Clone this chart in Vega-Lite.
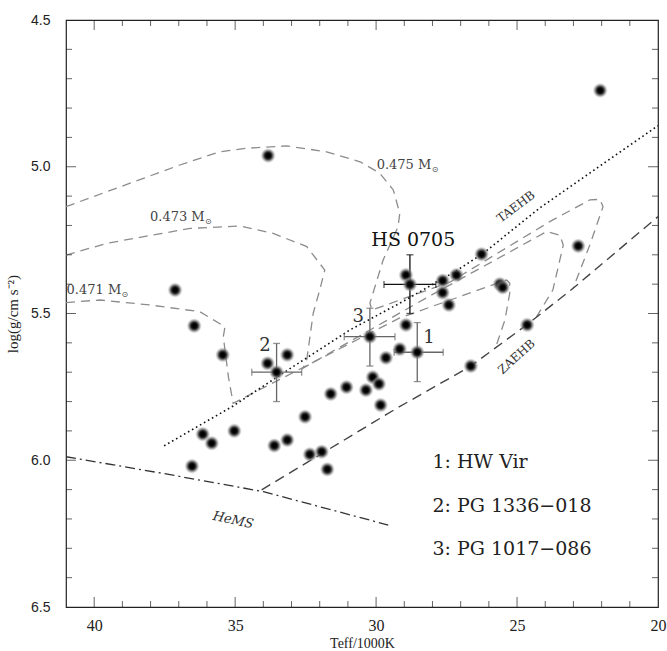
{
  "$schema": "https://vega.github.io/schema/vega-lite/v6.json",
  "width": 592,
  "height": 587,
  "autosize": {"type": "none"},
  "padding": {"left": 66, "top": 20, "right": 9, "bottom": 44},
  "background": "white",
  "config": {
    "view": {"stroke": "#222", "strokeWidth": 1.2},
    "axis": {"domain": false, "grid": false, "ticks": false, "tickSize": 0, "labelColor": "#222", "titleColor": "#222", "labelOverlap": false, "labelFlush": false},
    "axisX": {"labelFont": "Liberation Serif"},
    "axisY": {"labelFont": "Liberation Sans"},
    "tick": {"color": "#222", "thickness": 1}
  },
  "datasets": {
    "xt": [
      {"v": 21, "major": false}, {"v": 22, "major": false}, {"v": 23, "major": false}, {"v": 24, "major": false},
      {"v": 25, "major": true}, {"v": 26, "major": false}, {"v": 27, "major": false}, {"v": 28, "major": false},
      {"v": 29, "major": false}, {"v": 30, "major": true}, {"v": 31, "major": false}, {"v": 32, "major": false},
      {"v": 33, "major": false}, {"v": 34, "major": false}, {"v": 35, "major": true}, {"v": 36, "major": false},
      {"v": 37, "major": false}, {"v": 38, "major": false}, {"v": 39, "major": false}, {"v": 40, "major": true}
    ],
    "yt": [
      {"v": 4.6, "major": false}, {"v": 4.7, "major": false}, {"v": 4.8, "major": false}, {"v": 4.9, "major": false},
      {"v": 5.0, "major": true}, {"v": 5.1, "major": false}, {"v": 5.2, "major": false}, {"v": 5.3, "major": false},
      {"v": 5.4, "major": false}, {"v": 5.5, "major": true}, {"v": 5.6, "major": false}, {"v": 5.7, "major": false},
      {"v": 5.8, "major": false}, {"v": 5.9, "major": false}, {"v": 6.0, "major": true}, {"v": 6.1, "major": false},
      {"v": 6.2, "major": false}, {"v": 6.3, "major": false}, {"v": 6.4, "major": false}
    ],
    "dots": [
      {"T": 22.05, "g": 4.74}, {"T": 33.83, "g": 4.962}, {"T": 37.13, "g": 5.42}, {"T": 36.45, "g": 5.542},
      {"T": 35.44, "g": 5.641}, {"T": 33.85, "g": 5.67}, {"T": 33.15, "g": 5.641}, {"T": 36.15, "g": 5.911},
      {"T": 35.83, "g": 5.942}, {"T": 35.03, "g": 5.9}, {"T": 36.53, "g": 6.02}, {"T": 33.61, "g": 5.95},
      {"T": 33.15, "g": 5.931}, {"T": 32.52, "g": 5.852}, {"T": 32.35, "g": 5.98}, {"T": 31.93, "g": 5.971},
      {"T": 31.73, "g": 6.031}, {"T": 31.61, "g": 5.774}, {"T": 31.05, "g": 5.751}, {"T": 30.36, "g": 5.761},
      {"T": 29.84, "g": 5.812}, {"T": 28.94, "g": 5.369}, {"T": 27.64, "g": 5.388}, {"T": 27.15, "g": 5.369},
      {"T": 26.26, "g": 5.298}, {"T": 27.64, "g": 5.429}, {"T": 27.42, "g": 5.471}, {"T": 25.61, "g": 5.4},
      {"T": 25.51, "g": 5.411}, {"T": 22.83, "g": 5.27}, {"T": 24.64, "g": 5.539}, {"T": 26.64, "g": 5.679},
      {"T": 28.94, "g": 5.539}, {"T": 29.16, "g": 5.621}, {"T": 29.65, "g": 5.651}, {"T": 30.12, "g": 5.717},
      {"T": 29.9, "g": 5.74},
      {"T": 28.8, "g": 5.401}, {"T": 28.54, "g": 5.632}, {"T": 33.53, "g": 5.7}, {"T": 30.22, "g": 5.579}
    ],
    "errs": [
      {"name": "HS 0705", "T": 28.8, "g": 5.401, "Tlo": 27.88, "Thi": 29.72, "glo": 5.3, "ghi": 5.5},
      {"name": "1", "T": 28.54, "g": 5.632, "Tlo": 27.62, "Thi": 29.36, "glo": 5.531, "ghi": 5.732},
      {"name": "2", "T": 33.53, "g": 5.7, "Tlo": 32.64, "Thi": 34.41, "glo": 5.602, "ghi": 5.8},
      {"name": "3", "T": 30.22, "g": 5.579, "Tlo": 29.33, "Thi": 31.13, "glo": 5.482, "ghi": 5.679}
    ],
    "tracks": [
      {"track": "0.475", "i": 1, "T": 41.0, "g": 5.136}, {"track": "0.475", "i": 2, "T": 36.96, "g": 4.994},
      {"track": "0.475", "i": 3, "T": 35.54, "g": 4.949}, {"track": "0.475", "i": 4, "T": 34.59, "g": 4.937},
      {"track": "0.475", "i": 5, "T": 33.17, "g": 4.929}, {"track": "0.475", "i": 6, "T": 31.76, "g": 4.949},
      {"track": "0.475", "i": 7, "T": 30.57, "g": 4.983}, {"track": "0.475", "i": 8, "T": 29.87, "g": 5.022},
      {"track": "0.475", "i": 9, "T": 29.39, "g": 5.079}, {"track": "0.475", "i": 10, "T": 29.16, "g": 5.159},
      {"track": "0.475", "i": 11, "T": 29.22, "g": 5.204}, {"track": "0.475", "i": 12, "T": 29.75, "g": 5.318},
      {"track": "0.475", "i": 13, "T": 30.22, "g": 5.465}, {"track": "0.475", "i": 14, "T": 30.15, "g": 5.488},
      {"track": "0.475", "i": 15, "T": 27.38, "g": 5.393}, {"track": "0.475", "i": 16, "T": 23.84, "g": 5.187},
      {"track": "0.475", "i": 17, "T": 22.42, "g": 5.113}, {"track": "0.475", "i": 18, "T": 22.06, "g": 5.111},
      {"track": "0.475", "i": 19, "T": 21.95, "g": 5.136}, {"track": "0.475", "i": 20, "T": 22.42, "g": 5.267},
      {"track": "0.475", "i": 21, "T": 23.01, "g": 5.414},
      {"track": "0.473", "i": 1, "T": 41.0, "g": 5.301}, {"track": "0.473", "i": 2, "T": 39.56, "g": 5.261},
      {"track": "0.473", "i": 3, "T": 36.6, "g": 5.21}, {"track": "0.473", "i": 4, "T": 34.83, "g": 5.202},
      {"track": "0.473", "i": 5, "T": 33.65, "g": 5.227}, {"track": "0.473", "i": 6, "T": 32.46, "g": 5.272},
      {"track": "0.473", "i": 7, "T": 31.82, "g": 5.352}, {"track": "0.473", "i": 8, "T": 32.0, "g": 5.42},
      {"track": "0.473", "i": 9, "T": 32.23, "g": 5.499}, {"track": "0.473", "i": 10, "T": 32.46, "g": 5.658},
      {"track": "0.473", "i": 11, "T": 32.59, "g": 5.686}, {"track": "0.473", "i": 12, "T": 28.09, "g": 5.44},
      {"track": "0.473", "i": 13, "T": 23.95, "g": 5.221}, {"track": "0.473", "i": 14, "T": 23.48, "g": 5.233},
      {"track": "0.473", "i": 15, "T": 23.36, "g": 5.267}, {"track": "0.473", "i": 16, "T": 23.73, "g": 5.42},
      {"track": "0.473", "i": 17, "T": 24.31, "g": 5.511},
      {"track": "0.471", "i": 1, "T": 41.0, "g": 5.463}, {"track": "0.471", "i": 2, "T": 39.8, "g": 5.454},
      {"track": "0.471", "i": 3, "T": 38.02, "g": 5.471}, {"track": "0.471", "i": 4, "T": 36.25, "g": 5.494},
      {"track": "0.471", "i": 5, "T": 35.36, "g": 5.545}, {"track": "0.471", "i": 6, "T": 35.42, "g": 5.579},
      {"track": "0.471", "i": 7, "T": 35.24, "g": 5.715}, {"track": "0.471", "i": 8, "T": 35.07, "g": 5.806},
      {"track": "0.471", "i": 9, "T": 29.16, "g": 5.515}, {"track": "0.471", "i": 10, "T": 25.37, "g": 5.386},
      {"track": "0.471", "i": 11, "T": 25.26, "g": 5.396}, {"track": "0.471", "i": 12, "T": 25.26, "g": 5.431},
      {"track": "0.471", "i": 13, "T": 25.43, "g": 5.522}, {"track": "0.471", "i": 14, "T": 25.73, "g": 5.607}
    ],
    "zaehb": [
      {"i": 1, "T": 34.06, "g": 6.101}, {"i": 2, "T": 29.27, "g": 5.823}, {"i": 3, "T": 26.67, "g": 5.681},
      {"i": 4, "T": 24.66, "g": 5.539}, {"i": 5, "T": 23.01, "g": 5.414}, {"i": 6, "T": 20.0, "g": 5.17}
    ],
    "taehb": [
      {"i": 1, "T": 37.52, "g": 5.951}, {"i": 2, "T": 35.07, "g": 5.815}, {"i": 3, "T": 33.41, "g": 5.71},
      {"i": 4, "T": 30.93, "g": 5.556}, {"i": 5, "T": 29.16, "g": 5.465}, {"i": 6, "T": 27.21, "g": 5.358},
      {"i": 7, "T": 26.2, "g": 5.295}, {"i": 8, "T": 24.19, "g": 5.14}, {"i": 9, "T": 21.95, "g": 4.99},
      {"i": 10, "T": 20.0, "g": 4.86}
    ],
    "hems": [
      {"i": 1, "T": 41.0, "g": 5.988}, {"i": 2, "T": 37.55, "g": 6.045}, {"i": 3, "T": 34.0, "g": 6.107},
      {"i": 4, "T": 30.22, "g": 6.204}, {"i": 5, "T": 29.57, "g": 6.221}
    ],
    "labels": [
      {"kind": "mass", "text": "0.475 M", "T": 29.98, "g": 4.994},
      {"kind": "mass", "text": "0.473 M", "T": 38.02, "g": 5.17},
      {"kind": "mass", "text": "0.471 M", "T": 40.98, "g": 5.42},
      {"kind": "hs", "text": "HS 0705", "T": 28.68, "g": 5.25},
      {"kind": "num", "text": "1", "T": 28.12, "g": 5.585},
      {"kind": "num", "text": "2", "T": 33.94, "g": 5.611},
      {"kind": "num", "text": "3", "T": 30.63, "g": 5.511},
      {"kind": "legend", "text": "1: HW Vir", "T": 28.0, "g": 6.005},
      {"kind": "legend", "text": "2: PG 1336−018", "T": 28.0, "g": 6.157},
      {"kind": "legend", "text": "3: PG 1017−086", "T": 28.0, "g": 6.301},
      {"kind": "taehb", "text": "TAEHB", "T": 25.04, "g": 5.136},
      {"kind": "zaehb", "text": "ZAEHB", "T": 25.02, "g": 5.647},
      {"kind": "hems", "text": "HeMS", "T": 35.07, "g": 6.204}
    ]
  },
  "layer": [
    {
      "data": {"name": "tracks"},
      "mark": {"type": "line", "stroke": "#8c8c8c", "strokeWidth": 1.3, "strokeDash": [9, 6], "clip": true},
      "encoding": {
        "x": {"field": "T", "type": "quantitative", "scale": {"domain": [20, 41], "reverse": true, "nice": false, "zero": false},
          "axis": {"orient": "bottom", "values": [20, 25, 30, 35, 40],
            "labelFont": "Liberation Serif", "labelFontSize": 16, "labelPadding": 10, "labelBaseline": "top",
            "title": "Teff/1000K", "titleFont": "Liberation Serif", "titleFontSize": 14, "titleFontWeight": "normal", "titlePadding": 3}},
        "y": {"field": "g", "type": "quantitative", "scale": {"domain": [4.5, 6.5], "reverse": true, "nice": false, "zero": false},
          "axis": {"orient": "left", "values": [4.5, 5.0, 5.5, 6.0, 6.5], "format": ".1f",
            "labelFont": "Liberation Sans", "labelFontSize": 14, "labelPadding": 16,
            "title": "log(g/cm s⁻²)", "titleFont": "Liberation Serif", "titleFontSize": 15, "titleFontWeight": "normal", "titlePadding": 10}},
        "detail": {"field": "track"},
        "order": {"field": "i", "type": "quantitative"}
      }
    },
    {
      "data": {"name": "xt"},
      "transform": [{"filter": "datum.major"}],
      "mark": {"type": "tick", "orient": "vertical", "size": 10, "thickness": 1, "yOffset": -5, "color": "#222"},
      "encoding": {
        "x": {"field": "v", "type": "quantitative"},
        "y": {"datum": 6.5, "type": "quantitative"}
      }
    },
    {
      "data": {"name": "xt"},
      "transform": [{"filter": "!datum.major"}],
      "mark": {"type": "tick", "orient": "vertical", "size": 6, "thickness": 1, "yOffset": -3, "color": "#222"},
      "encoding": {
        "x": {"field": "v", "type": "quantitative"},
        "y": {"datum": 6.5, "type": "quantitative"}
      }
    },
    {
      "data": {"name": "xt"},
      "transform": [{"filter": "datum.major"}],
      "mark": {"type": "tick", "orient": "vertical", "size": 10, "thickness": 1, "yOffset": 5, "color": "#222"},
      "encoding": {
        "x": {"field": "v", "type": "quantitative"},
        "y": {"datum": 4.5, "type": "quantitative"}
      }
    },
    {
      "data": {"name": "xt"},
      "transform": [{"filter": "!datum.major"}],
      "mark": {"type": "tick", "orient": "vertical", "size": 6, "thickness": 1, "yOffset": 3, "color": "#222"},
      "encoding": {
        "x": {"field": "v", "type": "quantitative"},
        "y": {"datum": 4.5, "type": "quantitative"}
      }
    },
    {
      "data": {"name": "yt"},
      "transform": [{"filter": "datum.major"}],
      "mark": {"type": "tick", "orient": "horizontal", "size": 10, "thickness": 1, "xOffset": 5, "color": "#222"},
      "encoding": {
        "y": {"field": "v", "type": "quantitative"},
        "x": {"datum": 41, "type": "quantitative"}
      }
    },
    {
      "data": {"name": "yt"},
      "transform": [{"filter": "!datum.major"}],
      "mark": {"type": "tick", "orient": "horizontal", "size": 6, "thickness": 1, "xOffset": 3, "color": "#222"},
      "encoding": {
        "y": {"field": "v", "type": "quantitative"},
        "x": {"datum": 41, "type": "quantitative"}
      }
    },
    {
      "data": {"name": "yt"},
      "transform": [{"filter": "datum.major"}],
      "mark": {"type": "tick", "orient": "horizontal", "size": 10, "thickness": 1, "xOffset": -5, "color": "#222"},
      "encoding": {
        "y": {"field": "v", "type": "quantitative"},
        "x": {"datum": 20, "type": "quantitative"}
      }
    },
    {
      "data": {"name": "yt"},
      "transform": [{"filter": "!datum.major"}],
      "mark": {"type": "tick", "orient": "horizontal", "size": 6, "thickness": 1, "xOffset": -3, "color": "#222"},
      "encoding": {
        "y": {"field": "v", "type": "quantitative"},
        "x": {"datum": 20, "type": "quantitative"}
      }
    },
    {
      "data": {"name": "zaehb"},
      "mark": {"type": "line", "stroke": "#444", "strokeWidth": 1.4, "strokeDash": [10, 6], "clip": true},
      "encoding": {
        "x": {"field": "T", "type": "quantitative"},
        "y": {"field": "g", "type": "quantitative"},
        "order": {"field": "i", "type": "quantitative"}
      }
    },
    {
      "data": {"name": "taehb"},
      "mark": {"type": "line", "stroke": "#111", "strokeWidth": 1.6, "strokeDash": [1.6, 3], "clip": true},
      "encoding": {
        "x": {"field": "T", "type": "quantitative"},
        "y": {"field": "g", "type": "quantitative"},
        "order": {"field": "i", "type": "quantitative"}
      }
    },
    {
      "data": {"name": "hems"},
      "mark": {"type": "line", "stroke": "#333", "strokeWidth": 1.3, "strokeDash": [10, 4, 2, 4], "clip": true},
      "encoding": {
        "x": {"field": "T", "type": "quantitative"},
        "y": {"field": "g", "type": "quantitative"},
        "order": {"field": "i", "type": "quantitative"}
      }
    },
    {
      "data": {"name": "errs"},
      "mark": {"type": "rule", "strokeWidth": 1.3},
      "encoding": {
        "x": {"field": "Tlo", "type": "quantitative"},
        "x2": {"field": "Thi"},
        "y": {"field": "g", "type": "quantitative"},
        "color": {"condition": {"test": "datum.name === 'HS 0705'", "value": "#111"}, "value": "#666"}
      }
    },
    {
      "data": {"name": "errs"},
      "mark": {"type": "rule", "strokeWidth": 1.3},
      "encoding": {
        "x": {"field": "T", "type": "quantitative"},
        "y": {"field": "glo", "type": "quantitative"},
        "y2": {"field": "ghi"},
        "color": {"condition": {"test": "datum.name === 'HS 0705'", "value": "#111"}, "value": "#666"}
      }
    },
    {
      "data": {"name": "errs"},
      "mark": {"type": "tick", "orient": "vertical", "size": 7, "thickness": 1.3},
      "encoding": {
        "x": {"field": "Tlo", "type": "quantitative"},
        "y": {"field": "g", "type": "quantitative"},
        "color": {"condition": {"test": "datum.name === 'HS 0705'", "value": "#111"}, "value": "#666"}
      }
    },
    {
      "data": {"name": "errs"},
      "mark": {"type": "tick", "orient": "vertical", "size": 7, "thickness": 1.3},
      "encoding": {
        "x": {"field": "Thi", "type": "quantitative"},
        "y": {"field": "g", "type": "quantitative"},
        "color": {"condition": {"test": "datum.name === 'HS 0705'", "value": "#111"}, "value": "#666"}
      }
    },
    {
      "data": {"name": "errs"},
      "mark": {"type": "tick", "orient": "horizontal", "size": 7, "thickness": 1.3},
      "encoding": {
        "x": {"field": "T", "type": "quantitative"},
        "y": {"field": "glo", "type": "quantitative"},
        "color": {"condition": {"test": "datum.name === 'HS 0705'", "value": "#111"}, "value": "#666"}
      }
    },
    {
      "data": {"name": "errs"},
      "mark": {"type": "tick", "orient": "horizontal", "size": 7, "thickness": 1.3},
      "encoding": {
        "x": {"field": "T", "type": "quantitative"},
        "y": {"field": "ghi", "type": "quantitative"},
        "color": {"condition": {"test": "datum.name === 'HS 0705'", "value": "#111"}, "value": "#666"}
      }
    },
    {
      "data": {"name": "dots"},
      "mark": {"type": "point", "shape": "circle", "filled": true, "size": 230, "strokeWidth": 0, "opacity": 1,
        "fill": {"gradient": "radial", "stops": [
          {"offset": 0, "color": "#000000"}, {"offset": 0.28, "color": "#000000"},
          {"offset": 0.5, "color": "#333333"}, {"offset": 0.75, "color": "rgba(120,120,120,0.6)"},
          {"offset": 1, "color": "rgba(180,180,180,0)"}]}},
      "encoding": {
        "x": {"field": "T", "type": "quantitative"},
        "y": {"field": "g", "type": "quantitative"}
      }
    },
    {
      "data": {"name": "labels"},
      "transform": [{"filter": "datum.kind === 'mass'"}],
      "mark": {"type": "text", "align": "left", "baseline": "middle", "font": "DejaVu Serif", "fontSize": 13, "color": "#444"},
      "encoding": {
        "x": {"field": "T", "type": "quantitative"},
        "y": {"field": "g", "type": "quantitative"},
        "text": {"field": "text"}
      }
    },
    {
      "data": {"name": "labels"},
      "transform": [{"filter": "datum.kind === 'mass'"}],
      "mark": {"type": "text", "align": "left", "baseline": "middle", "font": "DejaVu Sans", "fontSize": 8, "dx": 55, "dy": 5, "color": "#444"},
      "encoding": {
        "x": {"field": "T", "type": "quantitative"},
        "y": {"field": "g", "type": "quantitative"},
        "text": {"value": "⊙"}
      }
    },
    {
      "data": {"name": "labels"},
      "transform": [{"filter": "datum.kind === 'hs'"}],
      "mark": {"type": "text", "align": "center", "baseline": "middle", "font": "DejaVu Serif", "fontSize": 19, "color": "#111"},
      "encoding": {
        "x": {"field": "T", "type": "quantitative"},
        "y": {"field": "g", "type": "quantitative"},
        "text": {"field": "text"}
      }
    },
    {
      "data": {"name": "labels"},
      "transform": [{"filter": "datum.kind === 'num'"}],
      "mark": {"type": "text", "align": "center", "baseline": "middle", "font": "DejaVu Serif", "fontSize": 18, "color": "#333"},
      "encoding": {
        "x": {"field": "T", "type": "quantitative"},
        "y": {"field": "g", "type": "quantitative"},
        "text": {"field": "text"}
      }
    },
    {
      "data": {"name": "labels"},
      "transform": [{"filter": "datum.kind === 'legend'"}],
      "mark": {"type": "text", "align": "left", "baseline": "middle", "font": "DejaVu Serif", "fontSize": 19, "color": "#222"},
      "encoding": {
        "x": {"field": "T", "type": "quantitative"},
        "y": {"field": "g", "type": "quantitative"},
        "text": {"field": "text"}
      }
    },
    {
      "data": {"name": "labels"},
      "transform": [{"filter": "datum.kind === 'taehb'"}],
      "mark": {"type": "text", "align": "center", "baseline": "middle", "font": "DejaVu Serif", "fontSize": 12, "angle": 323, "color": "#333"},
      "encoding": {
        "x": {"field": "T", "type": "quantitative"},
        "y": {"field": "g", "type": "quantitative"},
        "text": {"field": "text"}
      }
    },
    {
      "data": {"name": "labels"},
      "transform": [{"filter": "datum.kind === 'zaehb'"}],
      "mark": {"type": "text", "align": "center", "baseline": "middle", "font": "DejaVu Serif", "fontSize": 12, "angle": 318, "color": "#333"},
      "encoding": {
        "x": {"field": "T", "type": "quantitative"},
        "y": {"field": "g", "type": "quantitative"},
        "text": {"field": "text"}
      }
    },
    {
      "data": {"name": "labels"},
      "transform": [{"filter": "datum.kind === 'hems'"}],
      "mark": {"type": "text", "align": "center", "baseline": "middle", "font": "DejaVu Serif", "fontSize": 13, "fontStyle": "italic", "angle": 12, "color": "#333"},
      "encoding": {
        "x": {"field": "T", "type": "quantitative"},
        "y": {"field": "g", "type": "quantitative"},
        "text": {"field": "text"}
      }
    }
  ]
}
